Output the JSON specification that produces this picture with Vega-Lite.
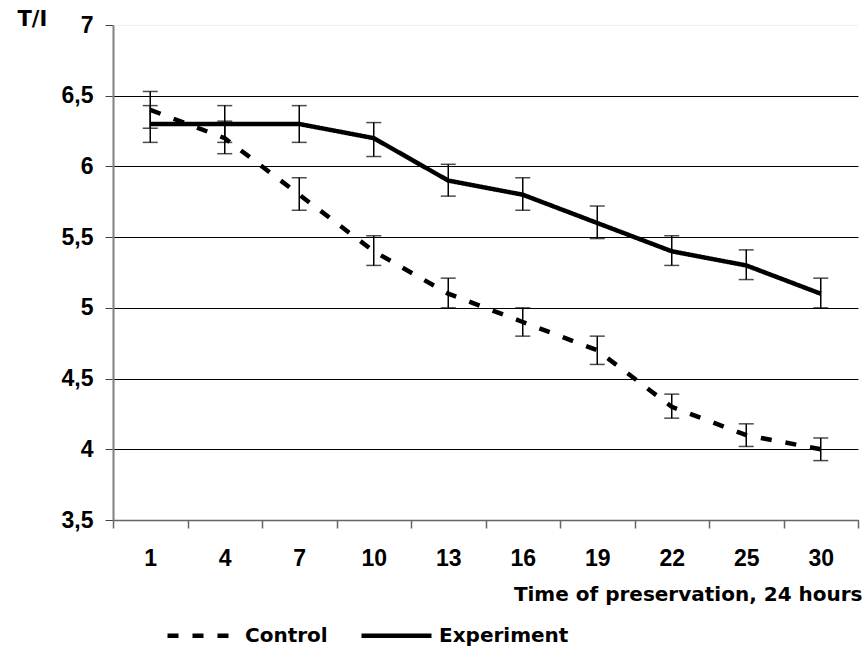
{
  "$schema": "https://vega.github.io/schema/vega-lite/v6.json",
  "autosize": "none",
  "width": 745,
  "height": 495,
  "padding": {"left": 113, "top": 25, "right": 9, "bottom": 130},
  "background": "white",
  "config": {
    "font": "Liberation Sans",
    "view": {"stroke": null},
    "axis": {"labelFont": "Liberation Sans", "titleFont": "DejaVu Sans", "labelFontWeight": "bold", "titleFontWeight": "bold", "labelColor": "black", "titleColor": "black"}
  },
  "data": {
    "values": [
      {"day": "1", "series": "Control", "value": 6.4, "lo": 6.27, "hi": 6.53},
      {"day": "4", "series": "Control", "value": 6.2, "lo": 6.09, "hi": 6.32},
      {"day": "7", "series": "Control", "value": 5.8, "lo": 5.69, "hi": 5.92},
      {"day": "10", "series": "Control", "value": 5.4, "lo": 5.3, "hi": 5.51},
      {"day": "13", "series": "Control", "value": 5.1, "lo": 5.0, "hi": 5.21},
      {"day": "16", "series": "Control", "value": 4.9, "lo": 4.8, "hi": 5.0},
      {"day": "19", "series": "Control", "value": 4.7, "lo": 4.6, "hi": 4.8},
      {"day": "22", "series": "Control", "value": 4.3, "lo": 4.22, "hi": 4.39},
      {"day": "25", "series": "Control", "value": 4.1, "lo": 4.02, "hi": 4.18},
      {"day": "30", "series": "Control", "value": 4.0, "lo": 3.92, "hi": 4.08},
      {"day": "1", "series": "Experiment", "value": 6.3, "lo": 6.17, "hi": 6.43},
      {"day": "4", "series": "Experiment", "value": 6.3, "lo": 6.17, "hi": 6.43},
      {"day": "7", "series": "Experiment", "value": 6.3, "lo": 6.17, "hi": 6.43},
      {"day": "10", "series": "Experiment", "value": 6.2, "lo": 6.07, "hi": 6.31},
      {"day": "13", "series": "Experiment", "value": 5.9, "lo": 5.79, "hi": 6.015},
      {"day": "16", "series": "Experiment", "value": 5.8, "lo": 5.69, "hi": 5.92},
      {"day": "19", "series": "Experiment", "value": 5.6, "lo": 5.49, "hi": 5.72},
      {"day": "22", "series": "Experiment", "value": 5.4, "lo": 5.3, "hi": 5.51},
      {"day": "25", "series": "Experiment", "value": 5.3, "lo": 5.2, "hi": 5.41},
      {"day": "30", "series": "Experiment", "value": 5.1, "lo": 5.0, "hi": 5.21}
    ]
  },
  "encoding": {
    "x": {
      "field": "day", "type": "ordinal",
      "sort": ["1", "4", "7", "10", "13", "16", "19", "22", "25", "30"],
      "scale": {"paddingInner": 0, "paddingOuter": 0},
      "axis": {
        "title": "Time of preservation, 24 hours",
        "titleFontSize": 20, "titleAnchor": "end", "titleAlign": "right", "titleX": 749, "titleY": 80, "titleBaseline": "alphabetic",
        "labelFontSize": 23, "labelAngle": 0, "labelPadding": 19,
        "tickBand": "extent", "tickSize": 8, "tickColor": "#666", "domainColor": "#666", "domainWidth": 1.5, "tickWidth": 1.5,
        "grid": false
      }
    },
    "y": {
      "type": "quantitative",
      "scale": {"domain": [3.5, 7], "nice": false, "zero": false},
      "axis": {
        "title": "T/I", "titleAngle": 0, "titleFontSize": 21, "titleAlign": "left", "titleBaseline": "middle", "titleX": -96, "titleY": -6,
        "values": [3.5, 4, 4.5, 5, 5.5, 6, 6.5, 7],
        "labelExpr": "replace(format(datum.value, '~g'), '.', ',')",
        "labelFontSize": 23, "labelPadding": 12,
        "tickSize": 8, "tickColor": "#444", "domainColor": "#808080", "domainWidth": 2,
        "grid": true, "gridColor": "#000", "gridWidth": 1,
        "gridOpacity": {"condition": {"test": "datum.value == 7", "value": 0.06}, "value": 1}
      }
    }
  },
  "layer": [
    {
      "mark": {"type": "line", "color": "black", "strokeWidth": 4.5, "strokeCap": "butt"},
      "encoding": {
        "y": {"field": "value", "type": "quantitative"},
        "detail": {"field": "series"},
        "strokeDash": {
          "field": "series", "type": "nominal",
          "scale": {"domain": ["Control", "Experiment"], "range": [[11, 14], [1, 0]]},
          "legend": {
            "title": null, "orient": "none", "direction": "horizontal", "legendX": 52, "legendY": 573,
            "symbolType": "stroke", "symbolSize": 4900, "symbolStrokeWidth": 4.5, "symbolStrokeColor": "black",
            "labelFontSize": 20, "labelFontWeight": "bold", "labelFont": "DejaVu Sans", "labelColor": "black",
            "columnPadding": 24, "labelOffset": 5
          }
        }
      }
    },
    {
      "mark": {"type": "rule", "color": "black", "strokeWidth": 1.5},
      "encoding": {
        "y": {"field": "lo", "type": "quantitative"},
        "y2": {"field": "hi"}
      }
    },
    {
      "mark": {"type": "tick", "color": "black", "thickness": 1.5, "size": 15, "orient": "horizontal"},
      "encoding": {"y": {"field": "lo", "type": "quantitative"}}
    },
    {
      "mark": {"type": "tick", "color": "black", "thickness": 1.5, "size": 15, "orient": "horizontal"},
      "encoding": {"y": {"field": "hi", "type": "quantitative"}}
    }
  ]
}
